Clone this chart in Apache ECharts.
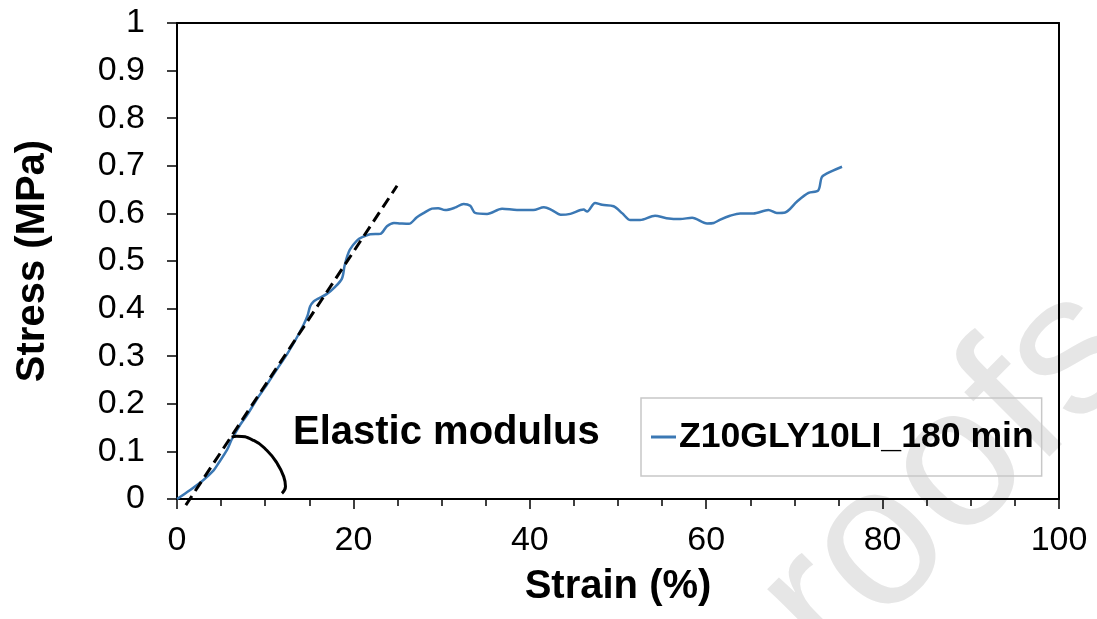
<!DOCTYPE html>
<html>
<head>
<meta charset="utf-8">
<script src="https://cdn.jsdelivr.net/npm/echarts@6/dist/echarts.min.js"></script>
<style>
html,body{margin:0;padding:0;background:#fff;}
#c{width:1097px;height:619px;}
</style>
</head>
<body>
<div id="c"></div>
<script>
// Stress-strain curve: [strain %, stress MPa]
var curveName = 'Z10GLY10LI_180 min';
var curveData = [
  [0,0],[1.5,0.019],[3.0,0.04],[4.15,0.06],[4.7,0.075],[5.67,0.103],[6.2,0.125],
  [7.2,0.157],[8.0,0.178],[9.07,0.21],[10.0,0.235],[10.95,0.262],[12.0,0.291],
  [12.5,0.305],[13.4,0.333],[14.35,0.366],[14.8,0.385],[15.1,0.405],[15.5,0.415],
  [15.9,0.42],[17.0,0.431],[17.9,0.445],[18.7,0.463],[19.0,0.49],[19.3,0.51],
  [19.6,0.524],[20.4,0.543],[21.0,0.55],[21.9,0.556],[23.05,0.557],[23.8,0.573],
  [24.6,0.58],[25.3,0.579],[26.3,0.578],[27.2,0.592],[28.0,0.601],[28.9,0.61],
  [29.6,0.611],[30.4,0.607],[31.5,0.612],[32.5,0.62],[33.25,0.616],[33.8,0.601],
  [35.15,0.599],[36.85,0.61],[38.55,0.607],[40.4,0.607],[41.6,0.613],[42.5,0.607],
  [43.5,0.597],[44.6,0.599],[46.1,0.608],[46.5,0.604],[47.4,0.622],[48.2,0.618],
  [49.5,0.615],[50.5,0.6],[51.4,0.586],[52.5,0.586],[54.2,0.595],[55.5,0.59],
  [57.05,0.588],[58.4,0.591],[60.1,0.579],[60.85,0.58],[61.6,0.587],[62.7,0.595],
  [63.85,0.6],[65.35,0.6],[67.05,0.607],[68.0,0.601],[68.95,0.602],[70.3,0.625],
  [71.6,0.643],[72.7,0.648],[73.1,0.676],[73.7,0.684],[75.4,0.698]
];
// Elastic modulus tangent (dashed) and angle arc
var tangentData = [[1.0,-0.013],[24.95,0.658]];
var arcData = [[6.2,0.13],[6.77,0.132],[8.7,0.123],[10.2,0.102],[11.35,0.075],[12.1,0.047],[12.3,0.026],[11.9,0.012]];
var annotationText = 'Elastic modulus';
var xTitle = 'Strain (%)';
var yTitle = 'Stress (MPa)';
var watermark = 'Journal Pre-proofs';

var FONT = '"Liberation Sans", Arial, Helvetica, sans-serif';
var chart = echarts.init(document.getElementById('c'), null, {renderer:'canvas'});
var frameAxis = {show:true, onZero:false, lineStyle:{color:'#000', width:2}};
chart.setOption({
  animation:false,
  backgroundColor:'#fff',
  grid:{left:177, right:38, top:23, bottom:120, containLabel:false},
  xAxis:[{
    type:'value', min:0, max:100, interval:20, position:'bottom',
    name:xTitle, nameLocation:'middle', nameGap:68,
    nameTextStyle:{fontFamily:FONT, fontWeight:'bold', fontSize:40, color:'#000'},
    axisLine:frameAxis,
    axisTick:{show:true, inside:false, length:10, lineStyle:{color:'#000', width:1.5}},
    minorTick:{show:true, splitNumber:4, length:7, lineStyle:{color:'#000', width:1.5}},
    axisLabel:{fontFamily:FONT, fontSize:34, color:'#000', margin:25},
    splitLine:{show:false}
  },{
    type:'value', min:0, max:100, position:'top',
    axisLine:frameAxis, axisTick:{show:false}, axisLabel:{show:false}, splitLine:{show:false}
  }],
  yAxis:[{
    type:'value', min:0, max:1, interval:0.1, position:'left',
    name:yTitle, nameLocation:'middle', nameGap:124, nameRotate:90,
    nameTextStyle:{fontFamily:FONT, fontWeight:'bold', fontSize:40, color:'#000'},
    axisLine:frameAxis,
    axisTick:{show:true, inside:false, length:10, lineStyle:{color:'#000', width:1.5}},
    axisLabel:{fontFamily:FONT, fontSize:34, color:'#000', margin:32},
    splitLine:{show:false}
  },{
    type:'value', min:0, max:1, position:'right',
    axisLine:frameAxis, axisTick:{show:false}, axisLabel:{show:false}, splitLine:{show:false}
  }],
  legend:{
    data:[{name:curveName, icon:'rect'}],
    left:641, top:398,
    itemWidth:25, itemHeight:3, itemGap:0,
    padding:[21,8,21,10],
    borderColor:'#c8c8c8', borderWidth:1.5,
    textStyle:{fontFamily:FONT, fontWeight:'bold', fontSize:35.6, color:'#000', padding:[0,0,0,-2]},
    selectedMode:false
  },
  graphic:[
    {type:'text', z:-10, x:1108, y:320, rotation:0.785,
     style:{text:watermark, fill:'#e6e6e6', font:'200px ' + FONT, align:'right', verticalAlign:'middle'}},
    {type:'text', x:293, y:433,
     style:{text:annotationText, fill:'#000', font:'bold 40px ' + FONT, align:'left', verticalAlign:'middle'}}
  ],
  series:[
    {name:curveName, type:'line', data:curveData, showSymbol:false, smooth:0.3,
     lineStyle:{color:'#3b78b4', width:2.5}, itemStyle:{color:'#3b78b4'}, z:3},
    {name:'tangent', type:'line', data:tangentData, showSymbol:false, clip:false,
     lineStyle:{color:'#000', width:3, type:[11,6]}, z:4},
    {name:'arc', type:'line', data:arcData, showSymbol:false, smooth:true, clip:false,
     lineStyle:{color:'#000', width:3}, z:4}
  ]
});
</script>
</body>
</html>
